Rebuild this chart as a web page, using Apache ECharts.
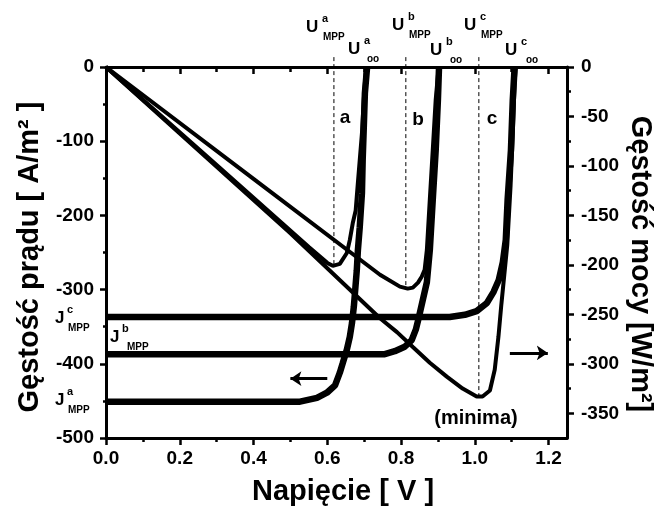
<!DOCTYPE html>
<html><head><meta charset="utf-8">
<script src="https://cdn.jsdelivr.net/npm/echarts@6/dist/echarts.min.js"></script>
<style>html,body{margin:0;padding:0;background:#fff}#c{width:662px;height:508px}</style>
</head><body><div id="c"></div>
<script>
// ---------- tick labels ----------
const xMajor = [0, 0.2, 0.4, 0.6, 0.8, 1.0, 1.2];
const xMinor = [0.1, 0.3, 0.5, 0.7, 0.9, 1.1];
const pMajor = [0, -50, -100, -150, -200, -250, -300, -350];
const pMinor = [-25, -75, -125, -175, -225, -275, -325];

// ---------- current density curves (left axis, A/m2) ----------
const curA_V = [0, 0.40, 0.526, 0.572, 0.599, 0.621, 0.634, 0.642, 0.653, 0.661, 0.667, 0.672, 0.675, 0.680, 0.683, 0.688, 0.694, 0.696, 0.699, 0.702, 0.708];
const curA_J = [-451, -451, -451, -446, -439, -429, -412, -399, -381, -364, -345, -323, -305, -274, -247, -216, -170, -125, -81, -35, 0];
const curB_V = [0, 0.40, 0.756, 0.783, 0.810, 0.829, 0.840, 0.848, 0.859, 0.870, 0.878, 0.886, 0.894, 0.900, 0.903];
const curB_J = [-387, -387, -387, -383, -377, -368, -354, -338, -314, -290, -247, -179, -112, -44, 0];
const curC_V = [0, 0.50, 0.932, 0.973, 1.005, 1.033, 1.051, 1.065, 1.076, 1.084, 1.089, 1.098, 1.103, 1.108];
const curC_J = [-337, -337, -337, -334, -329, -318, -303, -287, -263, -233, -179, -112, -44, 0];

// ---------- power density curves (right axis, W/m2) ----------
const powA_V = [0, 0.30, 0.55, 0.60, 0.615, 0.634, 0.653, 0.661, 0.669, 0.677, 0.683, 0.694, 0.699, 0.705];
const powA_P = [0, -99, -182, -198, -201, -199, -188, -175, -158, -145, -117, -67, -33, 0];
const powB_V = [0, 0.40, 0.743, 0.797, 0.818, 0.832, 0.846, 0.856, 0.864, 0.870, 0.878, 0.886, 0.894, 0.902];
const powB_P = [0, -113, -210, -222, -224, -223, -218, -212, -205, -185, -134, -84, -33, 0];
const powC_V = [0, 0.50, 0.743, 0.789, 0.832, 0.878, 0.924, 0.967, 1.005, 1.021, 1.041, 1.054, 1.064, 1.072, 1.080, 1.088, 1.097, 1.103, 1.108, 1.111];
const powC_P = [0, -168, -254, -268, -283, -299, -313, -325, -333, -333, -327, -306, -273, -240, -210, -180, -120, -67, -16, 0];

// ---------- maximum power points (dashed markers) ----------
const mppV = [0.618, 0.813, 1.011];
const mppP = [-200, -224, -332];
const mppTop = 10;

// ---------- arrows ----------
const arrowLeft = [[0.60, -420], [0.50, -420]];   // current axis
const arrowRight = [[1.095, -289], [1.198, -289]]; // power axis

const FONT = '"Liberation Sans", Arial, sans-serif';
const zip = (a, b) => a.map((v, i) => [v, b[i]]);

const chart = echarts.init(document.getElementById('c'), null, {renderer: 'canvas'});

const axisLineStyle = {show: true, onZero: false, lineStyle: {color: '#000', width: 3}};
const noLine = {show: false, onZero: false};
const lblStyle = {color: '#000', fontFamily: FONT, fontWeight: 'bold', fontSize: 19};

function curveSeries(V, Y, yIdx, w) {
  return {type: 'line', xAxisIndex: 0, yAxisIndex: yIdx, data: zip(V, Y), showSymbol: false,
    lineStyle: {color: '#000', width: w}, silent: true, z: 3};
}

const series = [
  curveSeries(curA_V, curA_J, 0, 6.5),
  curveSeries(curB_V, curB_J, 0, 6.5),
  curveSeries(curC_V, curC_J, 0, 6.5),
  curveSeries(powA_V, powA_P, 1, 4),
  curveSeries(powB_V, powB_P, 1, 4),
  curveSeries(powC_V, powC_P, 1, 4)
];
mppV.forEach((v, i) => {
  series.push({type: 'line', xAxisIndex: 0, yAxisIndex: 1, clip: false, showSymbol: false,
    data: [[v, mppTop], [v, mppP[i]]], lineStyle: {color: '#000', width: 1, type: [4, 3]}, z: 2});
});
series.push({type: 'lines', coordinateSystem: 'cartesian2d', xAxisIndex: 0, yAxisIndex: 0,
  symbol: ['none', 'arrow'], symbolSize: 11, data: [{coords: arrowLeft}],
  lineStyle: {color: '#000', width: 3, opacity: 1}, z: 4});
series.push({type: 'lines', coordinateSystem: 'cartesian2d', xAxisIndex: 0, yAxisIndex: 1,
  symbol: ['none', 'arrow'], symbolSize: 11, data: [{coords: arrowRight}],
  lineStyle: {color: '#000', width: 3, opacity: 1}, z: 4});

function sub(x, yc, main, sup, subs, mainSize, supDx, subDx) {
  const els = [];
  els.push({type: 'text', x: x, y: yc, style: {text: main, font: 'bold ' + mainSize + 'px ' + FONT, fill: '#000', verticalAlign: 'middle', align: 'left'}});
  els.push({type: 'text', x: x + supDx, y: yc - 8, style: {text: sup, font: 'bold 11px ' + FONT, fill: '#000', verticalAlign: 'middle', align: 'left'}});
  els.push({type: 'text', x: x + subDx, y: yc + 10, style: {text: subs, font: 'bold 10px ' + FONT, fill: '#000', verticalAlign: 'middle', align: 'left'}});
  return els;
}
function txt(x, y, t, size, rot) {
  return {type: 'text', x: x, y: y, rotation: rot || 0,
    style: {text: t, font: 'bold ' + size + 'px ' + FONT, fill: '#000', align: 'center', verticalAlign: 'middle'}};
}

const graphics = [].concat(
  sub(306, 27, 'U', 'a', 'MPP', 17, 16, 17),
  sub(348, 49, 'U', 'a', 'oo', 17, 16, 19),
  sub(392, 25, 'U', 'b', 'MPP', 17, 16, 17),
  sub(430, 50, 'U', 'b', 'oo', 17, 16, 20),
  sub(464, 25, 'U', 'c', 'MPP', 17, 16, 17),
  sub(505, 50, 'U', 'c', 'oo', 17, 16, 21),
  sub(55, 318, 'J', 'c', 'MPP', 17, 12, 13),
  sub(110, 337, 'J', 'b', 'MPP', 17, 12, 17),
  sub(55, 400, 'J', 'a', 'MPP', 17, 12, 13),
  [
    txt(345, 118, 'a', 19), txt(418, 120, 'b', 19), txt(492, 119, 'c', 19),
    txt(476, 418, '(minima)', 20),
    txt(30, 257, 'Gęstość prądu [ A/m² ]', 29, Math.PI / 2),
    txt(640, 264, 'Gęstość mocy [W/m²]', 29, -Math.PI / 2),
    txt(343, 492, 'Napięcie [ V ]', 29)
  ]
);

chart.setOption({
  animation: false,
  backgroundColor: '#fff',
  grid: {left: 106, right: 95, top: 67, bottom: 70, containLabel: false},
  xAxis: [
    {type: 'value', position: 'bottom', min: 0, max: 1.25, axisLine: axisLineStyle,
      axisTick: {show: true, customValues: xMajor, length: 7, lineStyle: {color: '#000', width: 2.5}},
      axisLabel: Object.assign({customValues: xMajor, margin: 11, formatter: v => v.toFixed(1)}, lblStyle),
      splitLine: {show: false}},
    {type: 'value', position: 'bottom', min: 0, max: 1.25, axisLine: noLine,
      axisTick: {show: true, customValues: xMinor, length: 4, lineStyle: {color: '#000', width: 2.5}},
      axisLabel: {show: false}, splitLine: {show: false}},
    {type: 'value', position: 'top', min: 0, max: 1.25, axisLine: axisLineStyle,
      axisTick: {show: true, inside: true, customValues: xMajor, length: 7, lineStyle: {color: '#000', width: 2.5}},
      axisLabel: {show: false}, splitLine: {show: false}},
    {type: 'value', position: 'top', min: 0, max: 1.25, axisLine: noLine,
      axisTick: {show: true, inside: true, customValues: xMinor, length: 5, lineStyle: {color: '#000', width: 2.5}},
      axisLabel: {show: false}, splitLine: {show: false}}
  ],
  yAxis: [
    {type: 'value', position: 'left', min: -500, max: 0, interval: 100, axisLine: axisLineStyle,
      axisTick: {show: true, length: 6, lineStyle: {color: '#000', width: 2.5}},
      minorTick: {show: true, splitNumber: 2, length: 3, lineStyle: {color: '#000', width: 2.5}},
      axisLabel: Object.assign({margin: 12}, lblStyle), splitLine: {show: false}},
    {type: 'value', position: 'right', min: -375, max: 0, axisLine: axisLineStyle,
      axisTick: {show: true, customValues: pMajor, length: 7, lineStyle: {color: '#000', width: 2.5}},
      axisLabel: Object.assign({customValues: pMajor, margin: 14}, lblStyle), splitLine: {show: false}},
    {type: 'value', position: 'right', min: -375, max: 0, axisLine: noLine,
      axisTick: {show: true, customValues: pMinor, length: 4, lineStyle: {color: '#000', width: 2.5}},
      axisLabel: {show: false}, splitLine: {show: false}}
  ],
  series: series,
  graphic: graphics
});
</script>
</body></html>
